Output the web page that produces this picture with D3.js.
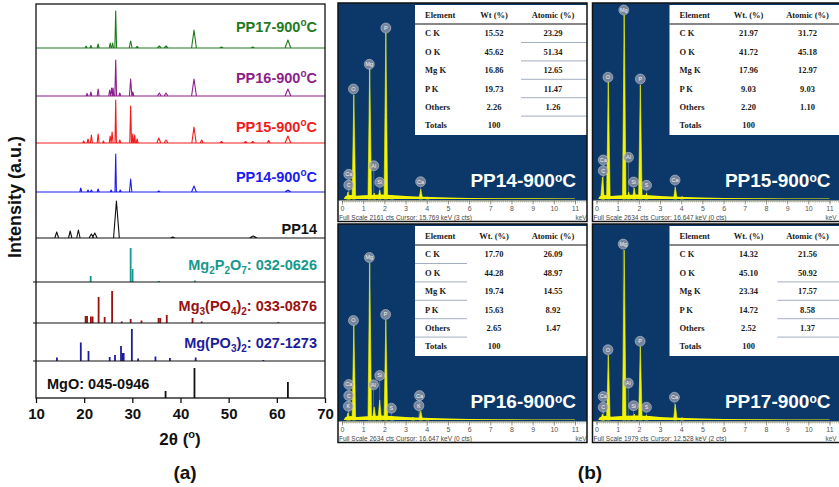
<!DOCTYPE html>
<html>
<head>
<meta charset="utf-8">
<script src="https://cdn.jsdelivr.net/npm/d3@7"></script>
<style>
html, body { margin: 0; padding: 0; background: #fff; }
svg { display: block; font-family: "Liberation Sans", Arial, sans-serif; }
</style>
</head>
<body>
<svg id="fig" width="839" height="487"></svg>
<script>
// ===================== (a) XRD data =====================
// Measured patterns: peaks as [2θ (deg), intensity (a.u.), half-width (deg)]
const xrdSamples = ["PP17-900", "PP16-900", "PP15-900", "PP14-900", "PP14"];
const pp17Peaks = [[20.4, 2, 0.2], [21.4, 2.5, 0.2], [22.9, 4, 0.2], [25.4, 5, 0.2], [25.9, 5, 0.2],
  [26.55, 37, 0.18], [29.65, 7, 0.3], [31.0, 1.5, 0.3], [35.6, 2, 0.4], [37.0, 2, 0.4],
  [42.8, 18, 0.5], [48.5, 1, 0.4], [55.0, 1, 0.4], [62.3, 8, 0.6]];
const pp16Peaks = [[20.6, 2.5, 0.2], [21.4, 4, 0.2], [22.9, 7, 0.2], [25.3, 6, 0.2], [25.7, 8, 0.2],
  [26.0, 8, 0.15], [26.55, 36, 0.18], [27.4, 3, 0.2], [29.65, 17, 0.25], [30.1, 4, 0.2],
  [35.6, 3, 0.4], [37.0, 3, 0.4], [42.8, 17, 0.5], [62.3, 7, 0.6]];
const pp15Peaks = [[19.9, 2, 0.2], [20.8, 4, 0.2], [21.5, 8, 0.2], [22.9, 9, 0.2], [24.0, 2, 0.2],
  [25.4, 7, 0.2], [25.8, 11, 0.2], [26.55, 43, 0.15], [27.4, 3, 0.2], [29.65, 37, 0.18],
  [30.1, 9, 0.15], [30.5, 8, 0.15], [31.0, 4, 0.2], [35.5, 5, 0.4], [37.0, 3, 0.4],
  [42.8, 16, 0.45], [44.4, 3, 0.3], [48.5, 1.5, 0.3], [53.5, 1.5, 0.3], [55.0, 1.5, 0.3],
  [58.3, 2.5, 0.3], [62.3, 7, 0.6]];
const pp14_900Peaks = [[19.3, 4, 0.2], [20.8, 2, 0.2], [21.5, 2, 0.2], [22.9, 3, 0.2], [25.6, 2, 0.2],
  [26.55, 38, 0.15], [27.5, 2, 0.2], [29.65, 13, 0.25], [35.5, 1, 0.3], [42.8, 6, 0.5], [62.3, 2, 0.6]];
const pp14Peaks = [[14.3, 6, 0.4], [17.1, 7, 0.35], [18.8, 8, 0.35], [21.5, 4, 0.5], [22.2, 5, 0.5],
  [26.7, 37, 0.6], [38.4, 1, 0.5], [55.1, 2, 0.8]];

// Reference cards: lines as [2θ (deg), intensity (a.u.)]
const refCards = ["032-0626", "033-0876", "027-1273", "045-0946"];
const refFormulas = [
  [["Mg", ""], ["2", "sub"], ["P", ""], ["2", "sub"], ["O", ""], ["7", "sub"]],
  [["Mg", ""], ["3", "sub"], ["(PO", ""], ["4", "sub"], [")", ""], ["2", "sub"]],
  [["Mg(PO", ""], ["3", "sub"], [")", ""], ["2", "sub"]],
  [["MgO", ""]]
];
const mg2p2o7Lines = [[21.35, 6], [29.65, 34], [30.05, 13], [35.5, 1], [43.0, 1.5]];
const mg3po42Lines = [[20.3, 7], [20.6, 7], [21.4, 6.5], [21.75, 6.5], [23.0, 26], [24.25, 6],
  [25.8, 32], [27.8, 1.5], [29.65, 4], [31.9, 2.5], [35.45, 5], [35.8, 5], [37.15, 8],
  [42.5, 5], [44.4, 1.5], [60.3, 0.8]];
const mgpo32Lines = [[14.35, 3.5], [19.3, 18.5], [20.9, 10], [25.3, 4], [26.4, 6], [27.65, 15],
  [28.0, 8], [28.2, 8], [29.9, 32], [31.2, 2.5], [34.8, 4.5], [37.8, 3], [43.15, 3.5], [57.2, 1]];
const mgoLines = [[36.9, 7], [42.9, 30], [62.3, 16]];

const twoThetaTicks = [10, 20, 30, 40, 50, 60, 70];

// ===================== (b) EDS data =====================
const edsSamples = ["PP14-900", "PP15-900", "PP16-900", "PP17-900"];
const edsElements = ["C K", "O K", "Mg K", "P K", "Others", "Totals"];
const wtPP14 = [15.52, 45.62, 16.86, 19.73, 2.26, 100];
const atPP14 = [23.29, 51.34, 12.65, 11.47, 1.26, null];
const wtPP15 = [21.97, 41.72, 17.96, 9.03, 2.20, 100];
const atPP15 = [31.72, 45.18, 12.97, 9.03, 1.10, null];
const wtPP16 = [17.70, 44.28, 19.74, 15.63, 2.65, 100];
const atPP16 = [26.09, 48.97, 14.55, 8.92, 1.47, null];
const wtPP17 = [14.32, 45.10, 23.34, 14.72, 2.52, 100];
const atPP17 = [21.56, 50.92, 17.57, 8.58, 1.37, null];
const wtHeaders = ["Wt (%)", "Wt. (%)", "Wt. (%)", "Wt. (%)"];

const fullScaleCts = [2161, 2634, 2634, 1979];
const cursorKeV = [15.769, 16.647, 16.647, 12.528];
const cursorCts = [3, 0, 0, 2];
const keVTicks = [0, 1, 2, 3, 4, 5, 6, 7, 8, 9, 10, 11];

// Spectrum lines as [energy (keV), counts]
const edsPeaksPP14 = [[0.28, 77], [0.34, 40], [0.56, 1147], [1.31, 1445], [1.52, 66], [1.78, 99],
  [2.07, 1831], [2.36, 44], [3.72, 110], [4.04, 25]];
const edsPeaksPP15 = [[0.28, 296], [0.34, 60], [0.56, 1572], [1.31, 2473], [1.52, 94], [1.78, 148],
  [2.07, 1532], [2.36, 80], [3.72, 161], [4.04, 35]];
const edsPeaksPP16 = [[0.28, 95], [0.34, 40], [0.56, 1274], [1.31, 2107], [1.52, 176], [1.78, 270],
  [2.07, 1341], [2.36, 54], [3.35, 40], [3.72, 122], [4.04, 27]];
const edsPeaksPP17 = [[0.28, 61], [0.34, 30], [0.56, 653], [1.31, 1716], [1.52, 41], [1.78, 61],
  [2.07, 741], [2.36, 51], [3.72, 162], [4.04, 25]];

// Bremsstrahlung background as [energy (keV), counts]
const edsBgPP14 = [[0.08, 0], [0.15, 30], [0.4, 45], [0.7, 35], [1.0, 40], [1.4, 45], [1.9, 50], [2.5, 42],
  [3.0, 33], [3.5, 28], [4.2, 22], [5.0, 16], [6.0, 12], [7.5, 9], [9.0, 7], [11.0, 5]];
const edsBgPP15 = [[0.08, 0], [0.15, 36], [0.4, 55], [0.7, 42], [1.0, 48], [1.4, 55], [1.9, 60], [2.5, 50],
  [3.0, 40], [3.5, 34], [4.2, 26], [5.0, 19], [6.0, 14], [7.5, 11], [9.0, 8], [11.0, 6]];
const edsBgPP16 = [[0.08, 0], [0.15, 36], [0.4, 55], [0.7, 42], [1.0, 48], [1.4, 55], [1.9, 60], [2.5, 50],
  [3.0, 40], [3.5, 34], [4.2, 26], [5.0, 19], [6.0, 14], [7.5, 11], [9.0, 8], [11.0, 6]];
const edsBgPP17 = [[0.08, 0], [0.15, 28], [0.4, 42], [0.7, 33], [1.0, 38], [1.4, 42], [1.9, 46], [2.5, 40],
  [3.0, 31], [3.5, 26], [4.2, 20], [5.0, 15], [6.0, 11], [7.5, 8], [9.0, 6], [11.0, 4]];

// Element markers as [symbol, energy (keV), counts]
const edsMarksPP14 = [["P", 2.07, 1885], ["Mg", 1.29, 1485], ["O", 0.54, 1213], ["Al", 1.5, 367],
  ["Ca", 0.32, 272], ["C", 0.32, 154], ["Si", 1.78, 184], ["Ca", 3.71, 191]];
const edsMarksPP15 = [["Mg", 1.29, 2540], ["O", 0.54, 1636], ["P", 2.07, 1613], ["Ca", 0.32, 524],
  ["C", 0.32, 380], ["Al", 1.51, 560], ["Si", 1.75, 228], ["S", 2.36, 184], ["Ca", 3.71, 255]];
const edsMarksPP16 = [["Mg", 1.29, 2184], ["P", 2.06, 1418], ["O", 0.54, 1337], ["Si", 1.78, 598],
  ["Al", 1.49, 473], ["Ca", 0.32, 477], ["C", 0.32, 328], ["K", 0.3, 185], ["S", 2.33, 158],
  ["Ca", 3.66, 328], ["K", 3.63, 193]];
const edsMarksPP17 = [["Mg", 1.26, 1776], ["P", 2.06, 795], ["O", 0.54, 710], ["Al", 1.5, 372],
  ["Ca", 0.32, 237], ["C", 0.32, 129], ["Si", 1.75, 145], ["S", 2.36, 129], ["Ca", 3.68, 230]];

// ===================== drawing =====================
const svg = d3.select("#fig");
const sans = '"Liberation Sans", Arial, sans-serif';
const serif = '"Liberation Serif", "Times New Roman", serif';

// text with sub/superscript runs
function richText(parent, parts, attrs, small) {
  const t = parent.append("text");
  Object.entries(attrs).forEach(([k, v]) => t.attr(k, v));
  let shift = 0;
  parts.forEach(([s, mode]) => {
    const ts = t.append("tspan").text(s);
    let target = 0;
    if (mode === "sub") { target = small.sub; ts.attr("font-size", small.size); }
    if (mode === "sup") { target = small.sup; ts.attr("font-size", small.size); }
    if (target !== shift) { ts.attr("dy", target - shift); shift = target; }
  });
  return t;
}

// ---------- (a) ----------
const plot = { left: 36, right: 325, top: 4, bottom: 398 };
const x = d3.scaleLinear().domain([10, 70]).range([plot.left, plot.right]);
const y = d3.scaleLinear().domain([0, 394]).range([plot.bottom, plot.top]);

const xrdPeaks = [pp17Peaks, pp16Peaks, pp15Peaks, pp14_900Peaks, pp14Peaks];
const traceOffsets = [350, 302, 255, 206, 160];
const traceColors = ["#1f7a1f", "#8c1f8c", "#f01c1c", "#1c1cf2", "#111111"];
const traceLabelY = [32, 83, 132, 182, 234];

const refLines = [mg2p2o7Lines, mg3po42Lines, mgpo32Lines, mgoLines];
const stickOffsets = [116, 75, 37, 0];
const stickColors = ["#16998c", "#9a1010", "#1d1d9a", "#111111"];
const refLabelY = [270, 311, 348, 389];

const gA = svg.append("g");

xrdPeaks.forEach((peaks, i) => {
  const off = traceOffsets[i];
  const line = d3.line().x(d => x(d[0])).y(d => y(off + d[1]));
  let dStr = line([[10, 0], [70, 0]]);
  peaks.forEach(([t, h, w]) => { dStr += line([[t - w, 0], [t, h], [t + w, 0]]); });
  gA.append("path").attr("d", dStr).attr("fill", "none")
    .attr("stroke", traceColors[i]).attr("stroke-width", 1.1).attr("stroke-linejoin", "round");
});

refLines.forEach((lines, i) => {
  const off = stickOffsets[i];
  gA.append("g").selectAll("line").data(lines).join("line")
    .attr("x1", d => x(d[0])).attr("x2", d => x(d[0]))
    .attr("y1", y(off)).attr("y2", d => y(off + d[1]))
    .attr("stroke", stickColors[i]).attr("stroke-width", 1.8);
});

// band separators
stickOffsets.slice(0, 3).forEach(off => {
  gA.append("line").attr("x1", plot.left - 3).attr("x2", plot.right)
    .attr("y1", y(off)).attr("y2", y(off)).attr("stroke", "#111").attr("stroke-width", 1.2);
});

gA.append("rect").attr("x", plot.left).attr("y", plot.top)
  .attr("width", plot.right - plot.left).attr("height", plot.bottom - plot.top)
  .attr("fill", "none").attr("stroke", "#111").attr("stroke-width", 1.3);

const axA = gA.append("g").attr("transform", `translate(0,${plot.bottom})`)
  .call(d3.axisBottom(x).tickValues(twoThetaTicks).tickSize(5).tickPadding(5));
axA.select(".domain").remove();
axA.selectAll("line").attr("stroke", "#111").attr("stroke-width", 1.3);
axA.selectAll("text").attr("font-family", sans).attr("font-size", 15)
  .attr("font-weight", "bold").attr("fill", "#111");

// sample labels
xrdSamples.forEach((name, i) => {
  const parts = name.endsWith("-900") ? [[name, ""], ["o", "sup"], ["C", ""]] : [[name, ""]];
  richText(gA, parts, {
    x: 317, y: traceLabelY[i], "text-anchor": "end", "font-family": sans,
    "font-size": 14.5, "font-weight": "bold", fill: traceColors[i]
  }, { size: 10, sup: -6, sub: 0 });
});

refFormulas.forEach((f, i) => {
  const parts = f.concat([[": " + refCards[i], ""]]);
  const last = i === refFormulas.length - 1;
  richText(gA, parts, {
    x: last ? 47 : 317, y: refLabelY[i], "text-anchor": last ? "start" : "end",
    "font-family": sans, "font-size": 14.5, "font-weight": "bold", fill: stickColors[i]
  }, { size: 10, sup: -6, sub: 4 });
});

gA.append("text").attr("transform", "translate(21,197) rotate(-90)")
  .attr("text-anchor", "middle").attr("font-family", sans).attr("font-size", 18)
  .attr("font-weight", "bold").attr("fill", "#111").text("Intensity (a.u.)");

richText(gA, [["2θ (", ""], ["o", "sup"], [")", ""]], {
  x: 180, y: 445, "text-anchor": "middle", "font-family": sans, "font-size": 17,
  "font-weight": "bold", fill: "#111"
}, { size: 11, sup: -7, sub: 0 });

gA.append("text").attr("x", 185).attr("y", 479).attr("text-anchor", "middle")
  .attr("font-family", sans).attr("font-size", 19).attr("font-weight", "bold")
  .attr("fill", "#111").text("(a)");

// ---------- (b) ----------
const PW = 249, PH = 218.5;
const panelOrigins = [[338, 3], [592.5, 3], [338, 224], [592.5, 224]];
const wtAll = [wtPP14, wtPP15, wtPP16, wtPP17];
const atAll = [atPP14, atPP15, atPP16, atPP17];
const peaksAll = [edsPeaksPP14, edsPeaksPP15, edsPeaksPP16, edsPeaksPP17];
const bgAll = [edsBgPP14, edsBgPP15, edsBgPP16, edsBgPP17];
const marksAll = [edsMarksPP14, edsMarksPP15, edsMarksPP16, edsMarksPP17];
// which table rules are drawn: column span (relative to table left) and row gaps
const ruleSpans = [[106, PW], null, [0, 52], [108, PW]];
const ruleGaps = [[1, 2, 3, 4, 5], [], [1, 2, 3, 4, 5], [2, 3, 4, 5]];

const BLUE = "#0b3868", YEL = "#f4f400";
const fmt = v => (v === 100 ? "100" : v.toFixed(2));

const defs = svg.append("defs");

edsSamples.forEach((name, i) => {
  const [x0, y0] = panelOrigins[i];
  const clipId = "clip" + i;
  defs.append("clipPath").attr("id", clipId).append("rect")
    .attr("x", x0).attr("y", y0).attr("width", PW).attr("height", PH);
  const g = svg.append("g").attr("clip-path", `url(#${clipId})`);

  const ex = d3.scaleLinear().domain([0, 11]).range([x0 + 4, x0 + 237]);
  const ey = d3.scaleLinear().domain([0, fullScaleCts[i]]).range([y0 + 196, y0]);

  g.append("rect").attr("x", x0).attr("y", y0).attr("width", PW).attr("height", PH).attr("fill", "#fff");
  g.append("rect").attr("x", x0).attr("y", y0).attr("width", PW).attr("height", 197.5).attr("fill", BLUE);

  // element markers (behind the spectrum)
  const marks = marksAll[i];
  g.append("g").selectAll("line").data(marks).join("line")
    .attr("x1", d => ex(d[1])).attr("x2", d => ex(d[1]))
    .attr("y1", d => ey(d[2]) + 5).attr("y2", ey(0))
    .attr("stroke", "rgba(200,205,215,0.45)").attr("stroke-width", 0.7);

  // spectrum: background continuum and characteristic lines
  const area = d3.area().x(d => ex(d[0])).y0(ey(0)).y1(d => ey(d[1]));
  g.append("path").attr("d", area(bgAll[i])).attr("fill", YEL);
  const hw = 0.085;
  g.append("g").selectAll("path").data(peaksAll[i]).join("path")
    .attr("d", d => area([[d[0] - hw, 0], [d[0], d[1]], [d[0] + hw, 0]]))
    .attr("fill", YEL).attr("stroke", YEL).attr("stroke-width", 0.6).attr("stroke-linejoin", "round");

  const mg = g.append("g").selectAll("g").data(marks).join("g")
    .attr("transform", d => `translate(${ex(d[1])},${ey(d[2])})`);
  mg.append("circle").attr("r", 5).attr("fill", "rgba(150,155,170,0.78)")
    .attr("stroke", "rgba(220,225,235,0.55)").attr("stroke-width", 0.8);
  mg.append("text").attr("text-anchor", "middle").attr("dy", "0.35em")
    .attr("font-family", sans).attr("font-size", 5.5).attr("fill", "#f2f2f2").text(d => d[0]);

  // energy ruler
  const rul = g.append("g").attr("transform", `translate(0,${y0 + 197.5})`);
  rul.call(d3.axisBottom(ex).tickValues(d3.range(0, 11.6, 0.1)).tickSize(2).tickFormat(""));
  rul.selectAll("line").attr("stroke", "#8d8d70").attr("stroke-width", 0.6);
  rul.select(".domain").attr("stroke", "#a8a888").attr("stroke-width", 1.2);
  const rulMajor = g.append("g").attr("transform", `translate(0,${y0 + 197.5})`)
    .call(d3.axisBottom(ex).tickValues(keVTicks).tickSize(4).tickPadding(2));
  rulMajor.select(".domain").remove();
  rulMajor.selectAll("line").attr("stroke", "#6f6f60").attr("stroke-width", 0.7);
  rulMajor.selectAll("text").attr("font-family", sans).attr("font-size", 7).attr("fill", "#555");

  g.append("text").attr("x", Math.min(x0 + 243, 831)).attr("y", y0 + 216.5).attr("text-anchor", "middle")
    .attr("font-family", sans).attr("font-size", 6.5).attr("fill", "#555").text("keV");
  g.append("text").attr("x", x0 + 1).attr("y", y0 + 216.5)
    .attr("font-family", sans).attr("font-size", 6.5).attr("fill", "#444")
    .attr("textLength", 133).attr("lengthAdjust", "spacingAndGlyphs")
    .text(`Full Scale ${fullScaleCts[i]} cts  Cursor: ${cursorKeV[i].toFixed(3)} keV (${cursorCts[i]} cts)`);

  // composition table
  const tl = x0 + 77, tt = y0 + 2;
  g.append("rect").attr("x", tl).attr("y", tt).attr("width", PW).attr("height", 130).attr("fill", "#fff");
  g.append("line").attr("x1", tl).attr("x2", x0 + PW).attr("y1", y0 + 21).attr("y2", y0 + 21)
    .attr("stroke", "#111").attr("stroke-width", 1.2);
  const colX = [tl + 10, tl + 79, tl + 138];
  const header = ["Element", wtHeaders[i], "Atomic (%)"];
  const tf = { "font-family": serif, "font-size": 8.5, "font-weight": "bold", fill: "#1a1a1a" };
  header.forEach((h, c) => {
    const t = g.append("text").attr("x", colX[c]).attr("y", y0 + 14.6)
      .attr("text-anchor", c === 0 ? "start" : "middle").text(h);
    Object.entries(tf).forEach(([k, v]) => t.attr(k, v));
  });
  const rowY = r => y0 + 30.3 + r * 18.4;
  edsElements.forEach((el, r) => {
    const cells = [el, fmt(wtAll[i][r]), atAll[i][r] == null ? "" : fmt(atAll[i][r])];
    cells.forEach((s, c) => {
      const t = g.append("text").attr("x", colX[c]).attr("y", rowY(r) + 3)
        .attr("text-anchor", c === 0 ? "start" : "middle").text(s);
      Object.entries(tf).forEach(([k, v]) => t.attr(k, v));
    });
  });
  if (ruleSpans[i]) {
    ruleGaps[i].forEach(r => {
      const yy = (rowY(r - 1) + rowY(r)) / 2;
      g.append("line").attr("x1", tl + ruleSpans[i][0]).attr("x2", tl + ruleSpans[i][1])
        .attr("y1", yy).attr("y2", yy).attr("stroke", "#8a9ab0").attr("stroke-width", 0.8);
    });
  }

  // sample label
  const nm = name.replace("-900", "");
  richText(g, [[nm + "-900", ""], ["o", "sup"], ["C", ""]], {
    x: x0 + PW - 11, y: y0 + 184, "text-anchor": "end", "font-family": sans,
    "font-size": 19, "font-weight": "bold", fill: "#fff"
  }, { size: 12, sup: -5, sub: 0 });

  svg.append("rect").attr("x", x0).attr("y", y0).attr("width", PW).attr("height", PH)
    .attr("fill", "none").attr("stroke", "#111").attr("stroke-width", 1.5);
});

svg.append("text").attr("x", 590).attr("y", 479).attr("text-anchor", "middle")
  .attr("font-family", sans).attr("font-size", 19).attr("font-weight", "bold")
  .attr("fill", "#111").text("(b)");
</script>
</body>
</html>
